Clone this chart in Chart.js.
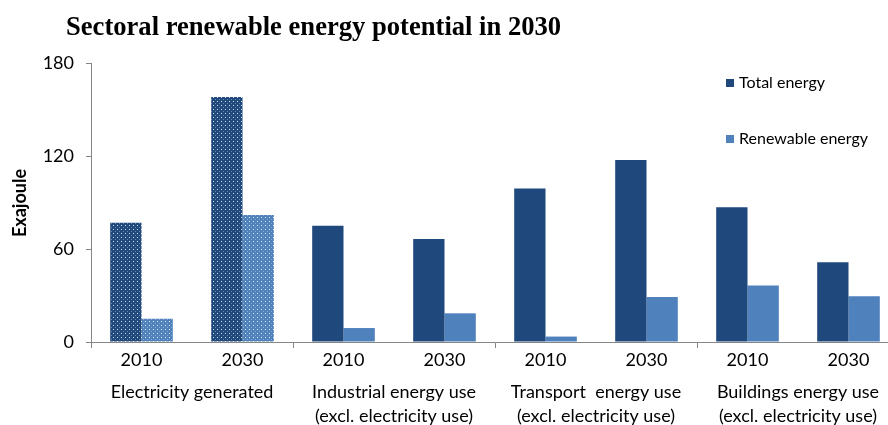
<!DOCTYPE html>
<html>
<head>
<meta charset="utf-8">
<script src="https://cdn.jsdelivr.net/npm/chart.js@4.4.1/dist/chart.umd.min.js"></script>
<style>
html,body{margin:0;padding:0;background:#fff;overflow:hidden;}
#wrap{width:888px;height:425px;overflow:hidden;position:relative;}
canvas{display:block;}
</style>
</head>
<body>
<div id="wrap"><canvas id="c" width="905" height="425"></canvas></div>
<script>
const titleText = 'Sectoral renewable energy potential in 2030';
const yTitle = 'Exajoule';
const years = ['2010','2030','2010','2030','2010','2030','2010','2030'];
const sectors = [
  ['Electricity generated'],
  ['Industrial energy use','(excl. electricity use)'],
  ['Transport  energy use','(excl. electricity use)'],
  ['Buildings energy use','(excl. electricity use)']
];
const seriesNames = ['Total energy','Renewable energy'];
const totalEnergy = [77,158,75,66.5,99,117.5,87,51.5];
const renewableEnergy = [15,82,9,18.5,3.5,29,36.5,29.5];
const yTicks = [0,60,120,180];
const dottedGroup = [true,true,false,false,false,false,false,false];

const DARK = '#1F497D', LIGHT = '#4F81BD', AXIS = '#868686';
const FONT = 'Lato, "Open Sans", sans-serif';

function makePattern(base){
  const p = document.createElement('canvas');
  p.width = 4; p.height = 4;
  const g = p.getContext('2d');
  g.fillStyle = base; g.fillRect(0,0,4,4);
  g.fillStyle = 'rgba(255,255,255,0.85)'; g.fillRect(1,1,1,1);
  g.fillStyle = 'rgba(255,255,255,0.35)'; g.fillRect(3,3,1,1);
  return document.getElementById('c').getContext('2d').createPattern(p,'repeat');
}
const darkPat = makePattern(DARK), lightPat = makePattern(LIGHT);

const extras = {
  id:'extras',
  afterDraw(chart){
    const ctx = chart.ctx;
    const x = chart.scales.x;
    ctx.save();
    // title
    ctx.fillStyle = '#000';
    ctx.font = 'bold 26.6px "Liberation Serif", "Times New Roman", serif';
    ctx.textBaseline = 'middle'; ctx.textAlign = 'left';
    ctx.fillText(titleText, 66, 28);
    // y title
    ctx.save();
    ctx.translate(20, 203);
    ctx.rotate(-Math.PI/2);
    ctx.font = 'bold 18px ' + FONT;
    ctx.textAlign = 'center'; ctx.textBaseline = 'middle';
    ctx.fillText(yTitle, 0, 0);
    ctx.restore();
    // group labels
    ctx.font = '18px ' + FONT;
    ctx.textAlign = 'center'; ctx.textBaseline = 'middle';
    sectors.forEach((lines, i) => {
      const cx = (x.getPixelForValue(2*i) + x.getPixelForValue(2*i+1)) / 2;
      lines.forEach((t, j) => ctx.fillText(t, cx, 392 + j*24));
    });
    // legend
    const items = [[DARK, seriesNames[0], 83],[LIGHT, seriesNames[1], 139]];
    ctx.font = '16px ' + FONT; ctx.textAlign = 'left';
    items.forEach(([col, t, yy]) => {
      ctx.fillStyle = col; ctx.fillRect(726, yy-4, 8, 8);
      ctx.fillStyle = '#000'; ctx.fillText(t, 739, yy);
    });
    ctx.restore();
  }
};

new Chart(document.getElementById('c'), {
  type:'bar',
  data:{
    labels: years,
    datasets:[
      {label:seriesNames[0], data: totalEnergy, backgroundColor: dottedGroup.map(d => d ? darkPat : DARK), categoryPercentage:0.62, barPercentage:1.0},
      {label:seriesNames[1], data: renewableEnergy, backgroundColor: dottedGroup.map(d => d ? lightPat : LIGHT), categoryPercentage:0.62, barPercentage:1.0}
    ]
  },
  options:{
    responsive:false,
    animation:false,
    layout:{padding:{top:63,right:6,left:0,bottom:0}},
    plugins:{legend:{display:false}, tooltip:{enabled:false}, title:{display:false}},
    scales:{
      x:{
        afterFit(s){ s.height = 83; },
        grid:{offset:true, drawOnChartArea:false, drawTicks:true, tickLength:6,
          color: c => (c.index === undefined || c.index % 2 === 0) ? AXIS : 'rgba(0,0,0,0)'},
        border:{color:AXIS, width:1},
        ticks:{font:{family:FONT, size:18}, color:'#000', padding:1, maxRotation:0}
      },
      y:{
        min:0, max:180,
        afterFit(s){ s.width = 91; },
        afterBuildTicks(s){ s.ticks = yTicks.map(v => ({value:v})); },
        grid:{drawOnChartArea:false, drawTicks:true, tickLength:5, color:AXIS},
        border:{color:AXIS, width:1},
        ticks:{font:{family:FONT, size:18}, color:'#000', padding:12}
      }
    }
  },
  plugins:[extras]
});
</script>
</body>
</html>
